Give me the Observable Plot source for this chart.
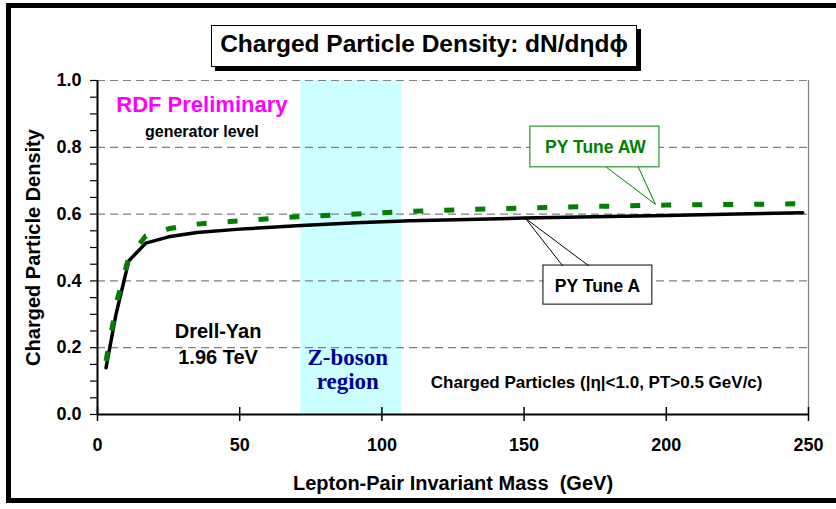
<!DOCTYPE html>
<html><head><meta charset="utf-8">
<script src="https://cdn.jsdelivr.net/npm/d3@7"></script>
<script src="https://cdn.jsdelivr.net/npm/@observablehq/plot@0.6"></script>
<style>
body{margin:0;overflow:hidden;background:#fff;font-family:"Liberation Sans",Arial,sans-serif;}
#wrap{position:relative;width:836px;height:509px;overflow:hidden;background:#fff;}
#frame{position:absolute;left:6px;top:3px;width:900px;height:490px;border:5px solid #000;box-sizing:content-box;z-index:3;pointer-events:none;}
#title{position:absolute;left:211px;top:25px;width:424px;height:40px;border:1px solid #000;box-shadow:4px 4px 0 #000;background:#fff;font:bold 24.5px "Liberation Sans",Arial,sans-serif;text-align:center;line-height:36px;z-index:2;white-space:nowrap;}
#chart{position:absolute;left:0;top:0;}
</style></head>
<body>
<div id="wrap">
  <div id="chart"></div>
  <div id="title">Charged Particle Density: dN/dηdϕ</div>
  <div id="frame"></div>
</div>
<script>
// ---- data ----
const massA      = [3, 6.5, 11, 17, 25, 35, 50, 70, 91, 110, 130, 150, 175, 200, 225, 248];
const densityA   = [0.14, 0.30, 0.46, 0.513, 0.532, 0.545, 0.555, 0.565, 0.574, 0.580, 0.584, 0.588, 0.592, 0.596, 0.600, 0.604];
const massAW     = [3, 7, 11, 17, 25, 35, 50, 70, 91, 110, 130, 150, 175, 200, 225, 248];
const densityAW  = [0.16, 0.345, 0.47, 0.535, 0.556, 0.570, 0.580, 0.592, 0.600, 0.608, 0.614, 0.618, 0.623, 0.627, 0.629, 0.631];
const xTicks     = [0, 50, 100, 150, 200, 250];
const yTicks     = [0.0, 0.2, 0.4, 0.6, 0.8, 1.0];
const yMinor     = [0.0,0.05,0.1,0.15,0.2,0.25,0.3,0.35,0.4,0.45,0.5,0.55,0.6,0.65,0.7,0.75,0.8,0.85,0.9,0.95,1.0];
const gridY      = [0.2, 0.4, 0.6, 0.8, 1.0];
const zBand      = [{x1: 71.5, x2: 107}];
const xLabel     = "Lepton-Pair Invariant Mass\u00a0\u00a0(GeV)";
const yLabel     = "Charged Particle Density";

// annotations (data coordinates)
const noteRDF    = [{x: 36.7, y: 0.928, t: "RDF Preliminary"}];
const noteGen    = [{x: 36.7, y: 0.847, t: "generator level"}];
const noteDY     = [{x: 42.4, y: 0.214, t: "Drell-Yan\n1.96 TeV"}];
const noteZ      = [{x: 88, y: 0.136, t: "Z-boson\nregion"}];
const noteCP     = [{x: 175.5, y: 0.097, t: "Charged Particles (|η|<1.0, PT>0.5 GeV/c)"}];
const boxAW      = [{x1: 152.2, x2: 197.6, y1: 0.740, y2: 0.862}];
const ptrAW      = [{x: 179.0, y: 0.740}, {x: 196.2, y: 0.629}, {x: 190.2, y: 0.740}];
const labAW      = [{x: 175.1, y: 0.801, t: "PY Tune AW"}];
const boxA       = [{x1: 156.8, x2: 195.1, y1: 0.329, y2: 0.446}];
const ptrA       = [{x: 163.5, y: 0.446}, {x: 150.5, y: 0.587}, {x: 172.6, y: 0.446}];
const labA       = [{x: 175.8, y: 0.385, t: "PY Tune A"}];

const tuneA  = massA.map((m, i) => ({mass: m, dens: densityA[i]}));
const tuneAW = massAW.map((m, i) => ({mass: m, dens: densityAW[i]}));

const SANS = "Liberation Sans, Arial, sans-serif";
const SERIF = "Liberation Serif, Times New Roman, serif";

const chart = Plot.plot({
  width: 836,
  height: 509,
  marginLeft: 97,
  marginRight: 28,
  marginTop: 80,
  marginBottom: 95,
  style: {fontFamily: SANS, fontWeight: "bold", background: "transparent", overflow: "visible"},
  x: {domain: [0, 250]},
  y: {domain: [0, 1]},
  marks: [
    Plot.rect(zBand, {x1: "x1", x2: "x2", y1: 0, y2: 1, fill: "#ccffff"}),
    Plot.ruleY(gridY, {stroke: "#808080", strokeWidth: 1.2, strokeDasharray: "8,5"}),
    Plot.ruleX([250], {y1: 0, y2: 1, stroke: "#808080", strokeWidth: 1.2}),
    Plot.line(tuneA, {x: "mass", y: "dens", stroke: "#000", strokeWidth: 3.5}),
    Plot.line(tuneAW, {x: "mass", y: "dens", stroke: "#008000", strokeWidth: 5, strokeDasharray: "10,21", strokeLinecap: "butt"}),
    // callouts
    Plot.rect(boxAW, {x1: "x1", x2: "x2", y1: "y1", y2: "y2", fill: "#fff", stroke: "#008000", strokeWidth: 1}),
    Plot.line(ptrAW, {x: "x", y: "y", stroke: "#008000", strokeWidth: 1}),
    Plot.text(labAW, {x: "x", y: "y", text: "t", fill: "#008000", fontSize: 17.5, fontWeight: "bold", fontFamily: SANS}),
    Plot.rect(boxA, {x1: "x1", x2: "x2", y1: "y1", y2: "y2", fill: "#fff", stroke: "#000", strokeWidth: 1}),
    Plot.line(ptrA, {x: "x", y: "y", stroke: "#000", strokeWidth: 1}),
    Plot.text(labA, {x: "x", y: "y", text: "t", fill: "#000", fontSize: 17.5, fontWeight: "bold", fontFamily: SANS}),
    // notes
    Plot.text(noteRDF, {x: "x", y: "y", text: "t", fill: "#ff00ff", fontSize: 22, fontWeight: "bold", fontFamily: SANS}),
    Plot.text(noteGen, {x: "x", y: "y", text: "t", fill: "#000", fontSize: 16, fontWeight: "bold", fontFamily: SANS}),
    Plot.text(noteDY, {x: "x", y: "y", text: "t", fill: "#000", fontSize: 20, lineHeight: 1.3, fontWeight: "bold", fontFamily: SANS}),
    Plot.text(noteZ, {x: "x", y: "y", text: "t", fill: "#000099", fontSize: 23, lineHeight: 1.05, fontWeight: "bold", fontFamily: SERIF}),
    Plot.text(noteCP, {x: "x", y: "y", text: "t", fill: "#000", fontSize: 17, fontWeight: "bold", fontFamily: SANS}),
    // axes
    Plot.ruleY([0], {stroke: "#000", strokeWidth: 2}),
    Plot.ruleX([0], {y1: 0, y2: 1, stroke: "#000", strokeWidth: 2}),
    Plot.ruleX(xTicks, {y1: -0.021, y2: 0.021, stroke: "#000", strokeWidth: 1.5}),
    Plot.axisY(yMinor, {tickSize: 7, tickPadding: 9, fontSize: 18, fontWeight: "bold", label: null, stroke: "#000", strokeWidth: 1.2,
      tickFormat: d => (Math.round(d * 20) % 4 === 0 ? d.toFixed(1) : "")}),
    Plot.axisX(xTicks, {tickSize: 0, tickPadding: 24, fontSize: 18, fontWeight: "bold", label: null, tickFormat: d => String(d)}),
    Plot.text([yLabel], {frameAnchor: "left", dx: -72, rotate: -90, lineAnchor: "top", textAnchor: "middle", fontSize: 20, fontWeight: "bold", fontFamily: SANS, fill: "#000"}),
    Plot.text([xLabel], {frameAnchor: "bottom", dy: 61, lineAnchor: "top", textAnchor: "middle", fontSize: 20, fontWeight: "bold", fontFamily: SANS, fill: "#000"})
  ]
});
document.getElementById("chart").appendChild(chart);
</script>
</body></html>
